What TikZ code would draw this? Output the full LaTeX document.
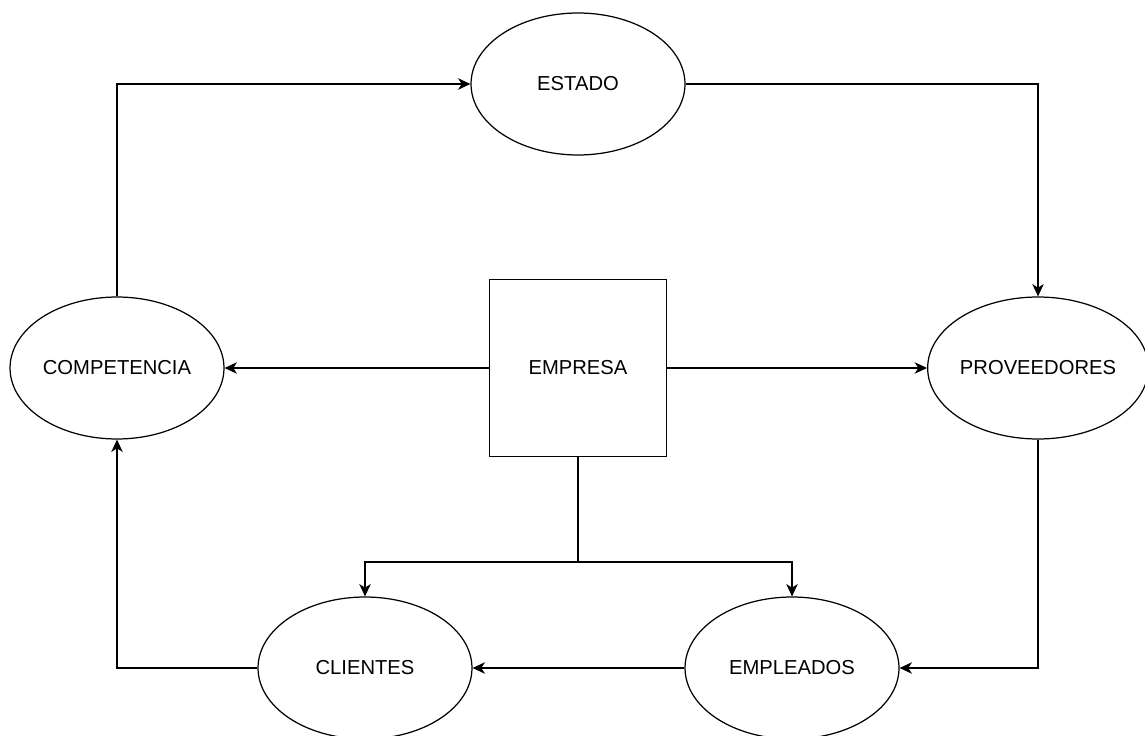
\documentclass[tikz,border=0pt]{standalone}
\usepackage{fontspec}
\setmainfont{Liberation Sans}
\usepackage{tikz}
\usetikzlibrary{shapes.geometric}
\usetikzlibrary{arrows.meta}

\begin{document}
\begin{tikzpicture}[x=0.02cm,y=-0.02cm,
	elipse/.style={ellipse,draw,line width=0.7pt,minimum width=4.28cm,minimum height=2.84cm,inner sep=0pt,font=\fontsize{11.5}{13}\selectfont},
	caja/.style={rectangle,draw,line width=0.9pt,minimum size=3.54cm,inner sep=0pt,font=\fontsize{11.5}{13}\selectfont},
	flecha/.style={-{Stealth[length=7pt,width=6.5pt,inset=2pt]},line width=0.85pt}]
	% (entorno de la empresa)
	\useasboundingbox (0,0) rectangle (1145,736);

	\node[elipse] (estado) at (578,84) {ESTADO};
	\node[elipse] (comp) at (117,368) {COMPETENCIA};
	\node[elipse] (prov) at (1038,368) {PROVEEDORES};
	\node[caja] (empresa) at (578,368) {EMPRESA};
	\node[elipse] (clientes) at (365,668) {CLIENTES};
	\node[elipse] (empleados) at (792,668) {EMPLEADOS};
	\coordinate (rama) at (578,562);

		\draw[flecha] (comp.north) |- (estado.west);
		\draw[flecha] (estado.east) -| (prov.north);
		\draw[flecha] (empresa.west) -- (comp.east);
		\draw[flecha] (empresa.east) -- (prov.west);
		\draw[line width=0.85pt] (empresa.south) -- (rama);
		\draw[flecha] (rama) -| (clientes.north);
		\draw[flecha] (rama) -| (empleados.north);
		\draw[flecha] (prov.south) |- (empleados.east);
		\draw[flecha] (empleados.west) -- (clientes.east);
		\draw[flecha] (clientes.west) -| (comp.south);
	\end{tikzpicture}
\end{document}
